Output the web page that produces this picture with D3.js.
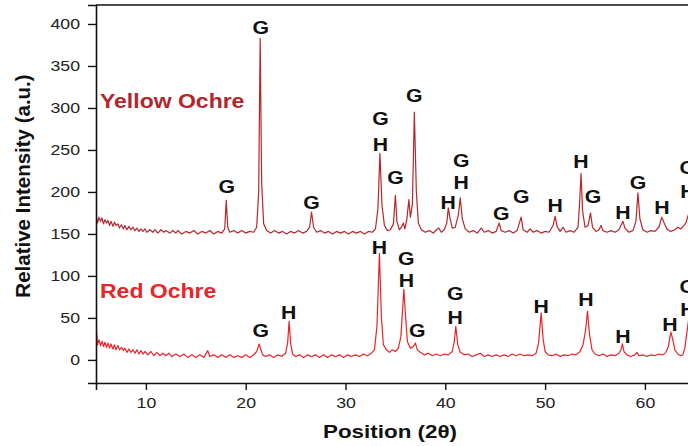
<!DOCTYPE html>
<html>
<head>
<meta charset="utf-8">
<script src="https://cdn.jsdelivr.net/npm/d3@7"></script>
<style>
  html, body { margin: 0; padding: 0; background: #fff; }
  svg { display: block; font-family: "Liberation Sans", Arial, sans-serif; }
</style>
</head>
<body>
<svg id="chart" width="688" height="446"></svg>
<script>
// ─── Data (2θ, relative intensity) ────────────────────────────────────────────
const yellowOchre = [
  [5.0,172],[5.15,163],[5.3,170],[5.45,165],[5.6,169],[5.75,162],[5.9,167],[6.05,163],[6.2,166],[6.35,160],
  [6.5,165],[6.7,159],[6.85,164],[7.0,160],[7.2,162],[7.35,157],[7.55,161],[7.75,156],[7.9,160],[8.1,155],
  [8.3,159],[8.5,155],[8.7,158],[8.9,154],[9.1,157],[9.3,153],[9.5,156],[9.7,153],[9.9,156],[10.1,152],
  [10.4,155],[10.7,152],[10.9,155],[11.2,151],[11.5,155],[11.8,152],[12.0,154],[12.4,151],[12.7,154],[13.0,151],
  [13.2,154],[13.6,150],[14.0,153],[14.4,151],[14.8,154],[15.2,150],[15.6,153],[16.0,151],[16.4,154],[16.8,150],
  [17.2,153],[17.6,151],[17.9,156],[18.05,190],[18.2,158],[18.4,152],[18.8,154],[19.2,151],[19.6,154],[20.0,151],
  [20.4,153],[20.8,152],[21.1,158],[21.3,200],[21.45,383],[21.6,210],[21.8,162],[22.1,154],[22.5,151],[22.9,154],
  [23.3,151],[23.7,153],[24.1,150],[24.5,153],[24.9,151],[25.3,154],[25.7,151],[26.1,153],[26.4,158],[26.6,176],
  [26.8,158],[27.1,152],[27.5,154],[27.9,151],[28.3,153],[28.7,150],[29.1,153],[29.5,151],[29.9,153],[30.3,150],
  [30.7,153],[31.1,151],[31.5,153],[31.9,150],[32.3,153],[32.7,152],[33.0,156],[33.25,180],[33.45,246],[33.65,185],
  [33.9,160],[34.2,154],[34.5,155],[34.8,162],[35.0,196],[35.15,165],[35.4,155],[35.6,158],[35.8,163],[35.95,156],
  [36.15,168],[36.35,191],[36.5,170],[36.7,185],[36.9,295],[37.1,200],[37.3,163],[37.6,155],[38.0,152],[38.4,154],
  [38.8,151],[39.1,155],[39.35,157],[39.6,152],[39.9,155],[40.15,163],[40.3,181],[40.45,170],[40.7,157],[41.0,158],
  [41.3,172],[41.5,193],[41.7,168],[42.0,156],[42.4,152],[42.8,154],[43.2,151],[43.6,157],[43.9,152],[44.3,154],
  [44.7,151],[45.1,153],[45.4,163],[45.6,154],[46.0,152],[46.4,154],[46.8,151],[47.2,154],[47.6,170],[47.8,155],
  [48.2,152],[48.5,156],[48.8,152],[49.2,154],[49.6,151],[50.0,153],[50.4,152],[50.8,160],[51.0,171],[51.2,159],
  [51.5,153],[51.8,158],[52.1,152],[52.5,154],[52.9,152],[53.3,158],[53.45,185],[53.6,222],[53.75,178],[54.0,158],
  [54.3,160],[54.55,175],[54.75,158],[55.1,153],[55.4,155],[55.6,160],[55.8,154],[56.2,152],[56.6,154],[57.0,152],
  [57.4,155],[57.6,160],[57.8,165],[58.0,157],[58.4,152],[58.8,154],[59.1,165],[59.3,199],[59.5,168],[59.8,155],
  [60.2,152],[60.6,154],[61.0,153],[61.4,158],[61.7,170],[61.9,164],[62.2,156],[62.6,153],[63.0,155],[63.3,158],
  [63.6,156],[63.9,160],[64.1,163],[64.3,171],[64.6,180]
];

const redOchre = [
  [5.0,22],[5.05,34],[5.15,18],[5.3,24],[5.45,17],[5.6,22],[5.75,16],[5.9,21],[6.05,15],[6.2,20],
  [6.35,14],[6.5,19],[6.7,13],[6.85,18],[7.0,12],[7.2,17],[7.35,12],[7.55,15],[7.75,11],[7.9,14],
  [8.1,9],[8.3,13],[8.5,9],[8.7,12],[8.9,8],[9.1,12],[9.3,7],[9.5,11],[9.7,7],[9.9,10],
  [10.2,6],[10.5,10],[10.8,5],[11.1,9],[11.4,5],[11.7,8],[12.0,5],[12.3,8],[12.6,4],[13.0,7],
  [13.4,4],[13.8,7],[14.2,3],[14.6,6],[15.0,3],[15.4,6],[15.8,3],[16.2,11],[16.4,4],[16.8,6],
  [17.2,3],[17.6,6],[18.0,3],[18.4,6],[18.8,3],[19.2,5],[19.6,3],[20.0,6],[20.4,3],[20.8,6],
  [21.1,10],[21.35,19],[21.5,13],[21.7,6],[22.0,4],[22.4,6],[22.8,3],[23.2,6],[23.6,4],[24.0,8],
  [24.2,20],[24.35,46],[24.5,20],[24.7,7],[25.0,4],[25.4,6],[25.8,3],[26.2,6],[26.6,4],[27.0,6],
  [27.4,3],[27.8,6],[28.2,3],[28.6,6],[29.0,4],[29.4,6],[29.8,3],[30.2,6],[30.6,4],[31.0,6],
  [31.4,4],[31.8,7],[32.2,5],[32.6,8],[32.9,12],[33.15,40],[33.4,127],[33.6,50],[33.8,18],[34.1,12],
  [34.4,9],[34.7,12],[35.0,10],[35.3,14],[35.55,28],[35.85,84],[36.0,55],[36.2,22],[36.5,14],[36.8,16],
  [37.0,20],[37.2,12],[37.5,9],[37.9,6],[38.3,8],[38.7,5],[39.1,7],[39.5,5],[39.9,7],[40.3,6],
  [40.7,10],[40.9,22],[41.05,40],[41.25,18],[41.5,9],[41.9,6],[42.3,7],[42.7,4],[43.1,6],[43.5,8],
  [43.9,4],[44.3,6],[44.7,4],[45.1,6],[45.5,4],[45.9,6],[46.3,4],[46.7,7],[47.1,5],[47.5,7],
  [47.9,5],[48.3,6],[48.7,5],[49.1,8],[49.35,20],[49.6,56],[49.8,25],[50.0,10],[50.3,6],[50.7,5],
  [51.1,7],[51.5,4],[51.9,6],[52.3,5],[52.7,7],[53.1,6],[53.5,10],[53.8,18],[54.05,35],[54.25,58],
  [54.45,30],[54.7,12],[55.0,7],[55.4,5],[55.8,7],[56.2,4],[56.6,6],[57.0,5],[57.4,8],[57.6,12],
  [57.75,19],[57.9,10],[58.2,6],[58.6,4],[59.0,6],[59.2,9],[59.4,5],[59.8,6],[60.2,4],[60.6,6],
  [61.0,5],[61.4,7],[61.8,6],[62.1,9],[62.35,16],[62.6,33],[62.8,24],[63.0,12],[63.3,7],[63.6,5],
  [63.8,6],[64.0,14],[64.2,32],[64.4,50]
];

// peak labels: [2θ, intensity at label centre, phase]
const yellowLabels = [
  [18.1,206,'G'],[21.5,396,'G'],[26.6,188,'G'],
  [33.5,288,'G'],[33.5,256,'H'],[35.0,217,'G'],[36.9,315,'G'],
  [40.3,188,'H'],[41.6,238,'G'],[41.6,211,'H'],[45.6,174,'G'],[47.6,195,'G'],
  [51.0,184,'H'],[53.6,236,'H'],[54.8,195,'G'],[57.8,176,'H'],[59.3,211,'G'],
  [61.7,181,'H'],[64.3,229,'G'],[64.3,200,'H']
];
const redLabels = [
  [21.5,35,'G'],[24.3,57,'H'],
  [33.4,134,'H'],[36.1,121,'G'],[36.1,95,'H'],[37.2,35,'G'],
  [41.0,79,'G'],[41.0,51,'H'],[49.6,64,'H'],[54.1,72,'H'],[57.8,28,'H'],
  [62.5,42,'H'],[64.3,87,'G'],[64.3,60,'H']
];

const xTicks = [10, 20, 30, 40, 50, 60];
const yTicks = [0, 50, 100, 150, 200, 250, 300, 350, 400];

// ─── Layout ───────────────────────────────────────────────────────────────────
const W = 688, H = 446;
const M = { top: 5, left: 96, bottom: 383 };
const SX = 1.18;   // horizontal stretch of the lettering in the figure

const x = d3.scaleLinear().domain([5, 65]).range([M.left, M.left + 60 * 9.98]);
const y = d3.scaleLinear().domain([-27.5, 422.6]).range([M.bottom, M.top]);

const svg = d3.select('#chart');

svg.append('defs').append('clipPath').attr('id', 'plot-clip')
  .append('rect').attr('x', M.left).attr('y', M.top)
  .attr('width', W - M.left + 20).attr('height', M.bottom - M.top);

// stretched text helper
function label(g, px, py, str) {
  return g.append('text')
    .attr('transform', `translate(${px},${py}) scale(${SX},1)`)
    .text(str);
}

// ── Traces ────────────────────────────────────────────────────────────────────
const line = d3.line().x(d => x(d[0])).y(d => y(d[1]));
const traces = svg.append('g').attr('clip-path', 'url(#plot-clip)');

traces.append('path').datum(yellowOchre)
  .attr('fill', 'none').attr('stroke', '#b8262c').attr('stroke-width', 1.2)
  .attr('stroke-linejoin', 'round').attr('d', line);

traces.append('path').datum(redOchre)
  .attr('fill', 'none').attr('stroke', '#e8242a').attr('stroke-width', 1.2)
  .attr('stroke-linejoin', 'round').attr('d', line);

// ── Axes ──────────────────────────────────────────────────────────────────────
const axX = svg.append('g').attr('transform', `translate(0,${M.bottom})`)
  .call(d3.axisBottom(x).tickValues(d3.range(5, 66, 5)).tickSize(6).tickFormat(''));
axX.call(d3.axisBottom(x).tickValues(xTicks).tickSize(7).tickPadding(7)
  .tickFormat(d3.format('d')));

const axY = svg.append('g').attr('transform', `translate(${M.left},0)`)
  .call(d3.axisLeft(y).tickValues(d3.range(-25, 420, 50)).tickSize(4).tickFormat(''));
axY.call(d3.axisLeft(y).tickValues(yTicks).tickSize(8).tickPadding(5));

svg.selectAll('.domain').attr('stroke', '#111').attr('stroke-width', 1.6);
svg.selectAll('.tick line').attr('stroke', '#111').attr('stroke-width', 1.4);
svg.selectAll('.tick text').attr('font-size', 15).attr('fill', '#222')
  .attr('font-family', '"Liberation Sans", Arial, sans-serif');
axX.selectAll('.tick text').attr('transform', `scale(${SX},1)`);
axY.selectAll('.tick text').attr('x', 0)
  .attr('transform', `translate(-16,0) scale(${SX},1)`);

// top frame
svg.append('line').attr('x1', M.left).attr('x2', W + 10)
  .attr('y1', M.top).attr('y2', M.top)
  .attr('stroke', '#111').attr('stroke-width', 1.6);

// ── Peak labels ───────────────────────────────────────────────────────────────
const labG = svg.append('g').attr('font-weight', 700).attr('font-size', 18)
  .attr('fill', '#111').attr('text-anchor', 'middle');
labG.selectAll('text').data(yellowLabels.concat(redLabels)).enter().append('text')
  .attr('transform', d => `translate(${x(d[0])},${y(d[1])}) scale(${SX},1)`)
  .attr('dy', '0.36em').text(d => d[2]);

// ── Sample names ──────────────────────────────────────────────────────────────
const names = svg.append('g').attr('font-size', 19.5).attr('font-weight', 700);
label(names, 100, 108, 'Yellow Ochre').attr('fill', '#b3262b');
label(names, 100, 298, 'Red Ochre').attr('fill', '#e6262a');

// ── Axis titles ───────────────────────────────────────────────────────────────
svg.append('text').attr('transform', `translate(30,${(M.top + M.bottom) / 2 - 8}) rotate(-90)`)
  .attr('text-anchor', 'middle').attr('font-size', 20.5).attr('font-weight', 700)
  .attr('fill', '#111').text('Relative Intensity (a.u.)');
const xt = svg.append('g').attr('font-size', 19).attr('font-weight', 700)
  .attr('fill', '#111').attr('text-anchor', 'middle');
label(xt, 390, 438, 'Position (2θ)');
</script>
</body>
</html>
